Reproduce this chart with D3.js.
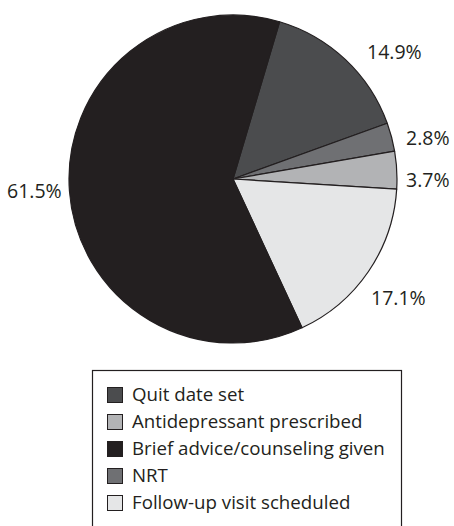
<!doctype html>
<html lang="en">
  <head>
    <meta charset="utf-8">
    <title>Smoking cessation interventions</title>
    <style>
      body { margin: 0; background: #fff; }
      text { font-family: "Open Sans", sans-serif; fill: #231f20; }
    </style>
  </head>
  <body>
    <script src="https://cdn.jsdelivr.net/npm/d3@7"></script>
    <script>

    // slices in drawing order (clockwise from the top)
    var sliceNames  = ["Quit date set", "NRT", "Antidepressant prescribed", "Follow-up visit scheduled", "Brief advice/counseling given"];
    var sliceValues = [14.9, 2.8, 3.7, 17.1, 61.5];
    var sliceColors = ["#4b4c4e", "#6f7073", "#b2b3b5", "#e5e6e7", "#231f20"];

    // legend order as in the figure
    var legendNames = ["Quit date set", "Antidepressant prescribed", "Brief advice/counseling given", "NRT", "Follow-up visit scheduled"];

    // where each percentage label sits (left edge, baseline)
    var labelXY = [[367, 59], [406, 145], [406, 187], [371, 305], [7, 198]];

    var width = 454, height = 526;
    var cx = 233, cy = 179, radius = 164;

    var svg = d3.select("body")
      .append("svg")
      .attr("width", width)
      .attr("height", height);

    var color = d3.scaleOrdinal()
      .domain(sliceNames)
      .range(sliceColors);

    var startAngle = 16.5 * Math.PI / 180;

    var pie = d3.pie()
      .sort(null)
      .startAngle(startAngle)
      .endAngle(startAngle + 2 * Math.PI)
      .value(function(d){ return d.value; });

    var arc = d3.arc().innerRadius(0).outerRadius(radius);

    var data = sliceNames.map(function(n, i){ return { name: n, value: sliceValues[i] }; });

    var chart = svg.append("g")
      .attr("transform", "translate(" + cx + "," + cy + ")");

    chart.selectAll("path")
      .data(pie(data))
      .enter()
      .append("path")
      .attr("d", arc)
      .attr("fill", function(d){ return color(d.data.name); })
      .attr("stroke", "#231f20")
      .attr("stroke-width", 1.2)
      .attr("stroke-linejoin", "round");

    svg.selectAll(".pct")
      .data(data)
      .enter()
      .append("text")
      .attr("class", "pct")
      .attr("x", function(d, i){ return labelXY[i][0]; })
      .attr("y", function(d, i){ return labelXY[i][1]; })
      .style("font-size", "19.5px")
      .text(function(d){ return d.value.toFixed(1) + "%"; });

    // legend
    var legend = svg.append("g")
      .attr("transform", "translate(92, 370)");

    legend.append("rect")
      .attr("x", 0.5)
      .attr("y", 0.5)
      .attr("width", 309)
      .attr("height", 170)
      .attr("fill", "none")
      .attr("stroke", "#231f20")
      .attr("stroke-width", 1.2);

    var rowY = d3.scaleBand()
      .domain(legendNames)
      .range([10, 145]);

    var rows = legend.selectAll(".row")
      .data(legendNames)
      .enter()
      .append("g")
      .attr("class", "row")
      .attr("transform", function(d){ return "translate(0," + rowY(d) + ")"; });

    rows.append("rect")
      .attr("x", 15.5)
      .attr("y", 7.5)
      .attr("width", 15)
      .attr("height", 15)
      .attr("fill", function(d){ return color(d); })
      .attr("stroke", "#231f20")
      .attr("stroke-width", 1);

    rows.append("text")
      .attr("x", 40)
      .attr("y", 21)
      .style("font-size", "18.7px")
      .text(function(d){ return d; });

    </script>
  </body>
</html>
